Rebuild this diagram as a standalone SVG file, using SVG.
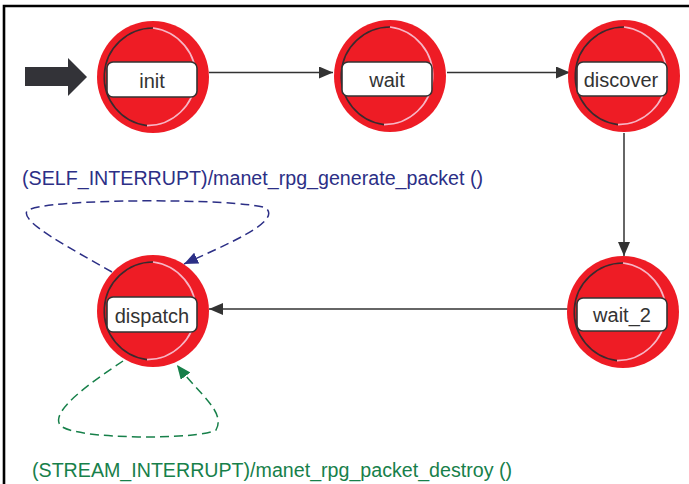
<svg xmlns="http://www.w3.org/2000/svg" width="689" height="484" viewBox="0 0 689 484">
  <style>
    .disk { fill: #ee1c25; }
    .ring-dark { fill: none; stroke: #3a2a2e; stroke-width: 1.6; }
    .ring-light { fill: none; stroke: #f7b6c6; stroke-width: 1.6; }
    .box { fill: #ffffff; stroke: #333333; stroke-width: 1.6; }
    .lbl { font-family: "Liberation Sans", Arial, sans-serif; font-size: 20px; fill: #333333; text-anchor: middle; }
    .edge { fill: none; stroke: #333333; stroke-width: 1.5; }
    .loop-blue { fill: none; stroke: #2c2f86; stroke-width: 1.5; stroke-dasharray: 9 5; }
    .loop-green { fill: none; stroke: #17804a; stroke-width: 1.5; stroke-dasharray: 9 5; }
    .cond { font-family: "Liberation Sans", Arial, sans-serif; font-size: 19.6px; }
  </style>
  <defs>
    <marker id="ah" markerWidth="14" markerHeight="12" refX="14" refY="6" orient="auto" markerUnits="userSpaceOnUse">
      <path d="M0,0 L14,6 L0,12 Z" fill="#333333"/>
    </marker>
    <marker id="ahBlue" markerWidth="14" markerHeight="12" refX="14" refY="6" orient="auto" markerUnits="userSpaceOnUse">
      <path d="M0,0 L14,6 L0,12 Z" fill="#2c2f86"/>
    </marker>
    <marker id="ahGreen" markerWidth="14" markerHeight="12" refX="14" refY="6" orient="auto" markerUnits="userSpaceOnUse">
      <path d="M0,0 L14,6 L0,12 Z" fill="#17804a"/>
    </marker>
    <!-- state symbol: red disk, two-tone inner ring -->
    <g id="state">
      <circle class="disk" cx="0" cy="0" r="56"/>
      <path class="ring-dark" d="M-6,48.6 A49,49 0 0 1 0,-49"/>
      <path class="ring-light" d="M0,-49 A49,49 0 0 1 -6,48.6"/>
    </g>
  </defs>

  <!-- frame -->
  <path d="M4,484 L4,6 L689,6" fill="none" stroke="#000000" stroke-width="2.6"/>

  <!-- initial-state arrow -->
  <path d="M25,67 L68,67 L68,58 L87,77 L68,96 L68,86 L25,86 Z" fill="#333338"/>

  <g id="connectors">
    <line class="edge" x1="209" y1="72.5" x2="333" y2="72.5" marker-end="url(#ah)"/>
    <line class="edge" x1="447" y1="72.5" x2="570" y2="72.5" marker-end="url(#ah)"/>
    <line class="edge" x1="624" y1="133" x2="624" y2="256" marker-end="url(#ah)"/>
    <line class="edge" x1="569" y1="309" x2="209" y2="309" marker-end="url(#ah)"/>
    <path class="loop-blue" d="M112,272 C70,248 20,222 27,211 C40,198 240,198 266,208 C282,222 225,245 184,264" marker-end="url(#ahBlue)"/>
    <path class="loop-green" d="M123,361 C95,380 50,410 60,425 C72,440 200,440 216,430 C226,412 200,395 177,365" marker-end="url(#ahGreen)"/>
  </g>

  <g id="init">
    <use href="#state" x="153" y="77"/>
    <rect class="box" x="107" y="62" width="90" height="35" rx="6"/>
    <text class="lbl" x="152" y="88">init</text>
  </g>
  <g id="wait">
    <use href="#state" x="390" y="76"/>
    <rect class="box" x="342" y="62" width="90" height="34" rx="6"/>
    <text class="lbl" x="387" y="87">wait</text>
  </g>
  <g id="discover">
    <use href="#state" x="624" y="76"/>
    <rect class="box" x="577" y="62" width="90" height="34" rx="6"/>
    <text class="lbl" x="621" y="87">discover</text>
  </g>
  <g id="wait_2">
    <use href="#state" x="623" y="312"/>
    <rect class="box" x="577" y="298" width="90" height="33" rx="6"/>
    <text class="lbl" x="622" y="322">wait_2</text>
  </g>
  <g id="dispatch">
    <use href="#state" x="153" y="311"/>
    <rect class="box" x="107" y="297" width="90" height="35" rx="6"/>
    <text class="lbl" x="152" y="323">dispatch</text>
  </g>

  <text class="cond" x="22" y="185" fill="#2c2f86" textLength="461" lengthAdjust="spacingAndGlyphs">(SELF_INTERRUPT)/manet_rpg_generate_packet ()</text>
  <text class="cond" x="32" y="477" fill="#17804a" textLength="480" lengthAdjust="spacingAndGlyphs">(STREAM_INTERRUPT)/manet_rpg_packet_destroy ()</text>
</svg>
